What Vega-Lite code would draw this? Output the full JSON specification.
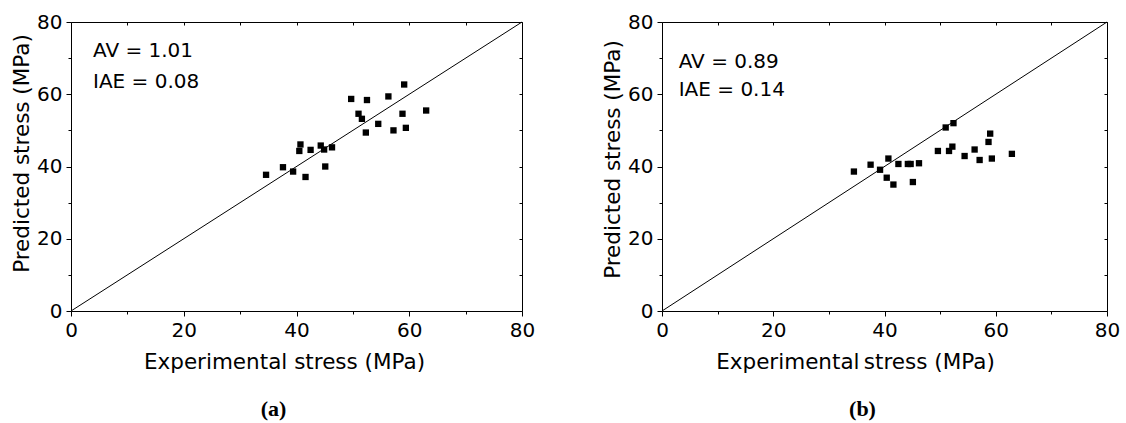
{
  "$schema": "https://vega.github.io/schema/vega-lite/v6.json",
  "autosize": {"type": "none"},
  "padding": {"left": 71, "top": 22, "right": 1055, "bottom": 401},
  "bounds": "flush",
  "spacing": 140,
  "background": "white",
  "config": {
    "font": "DejaVu Sans",
    "view": {"stroke": null},
    "axis": {
      "labelFont": "DejaVu Sans",
      "titleFont": "DejaVu Sans",
      "labelColor": "black",
      "titleColor": "black",
      "domainColor": "black",
      "tickColor": "black",
      "domainWidth": 1,
      "tickWidth": 1,
      "grid": false,
      "titleFontWeight": "normal",
      "labelFlush": false,
      "labelOverlap": false
    }
  },
  "datasets": {
    "a": [
      {"exp": 34.6, "pred": 37.7}, {"exp": 37.6, "pred": 39.8}, {"exp": 39.4, "pred": 38.6},
      {"exp": 40.5, "pred": 44.3}, {"exp": 40.7, "pred": 46.1}, {"exp": 41.6, "pred": 37.1},
      {"exp": 42.5, "pred": 44.6}, {"exp": 44.3, "pred": 45.8}, {"exp": 44.9, "pred": 44.7},
      {"exp": 45.1, "pred": 40.0}, {"exp": 46.3, "pred": 45.3}, {"exp": 49.7, "pred": 58.7},
      {"exp": 51.0, "pred": 54.6}, {"exp": 51.6, "pred": 53.2}, {"exp": 52.3, "pred": 49.4},
      {"exp": 52.5, "pred": 58.4}, {"exp": 54.5, "pred": 51.8}, {"exp": 56.3, "pred": 59.4},
      {"exp": 57.2, "pred": 50.0}, {"exp": 58.8, "pred": 54.6}, {"exp": 59.1, "pred": 62.7},
      {"exp": 59.4, "pred": 50.7}, {"exp": 63.0, "pred": 55.5}
    ],
    "b": [
      {"exp": 34.5, "pred": 38.6}, {"exp": 37.5, "pred": 40.5}, {"exp": 39.2, "pred": 39.1},
      {"exp": 40.4, "pred": 36.9}, {"exp": 40.7, "pred": 42.2}, {"exp": 41.6, "pred": 35.0},
      {"exp": 42.5, "pred": 40.7}, {"exp": 44.2, "pred": 40.7}, {"exp": 44.7, "pred": 40.7},
      {"exp": 45.1, "pred": 35.7}, {"exp": 46.2, "pred": 40.9}, {"exp": 49.6, "pred": 44.3},
      {"exp": 51.0, "pred": 50.8}, {"exp": 51.6, "pred": 44.3}, {"exp": 52.2, "pred": 45.5},
      {"exp": 52.4, "pred": 52.0}, {"exp": 54.4, "pred": 42.9}, {"exp": 56.2, "pred": 44.7},
      {"exp": 57.1, "pred": 41.8}, {"exp": 58.7, "pred": 46.8}, {"exp": 59.0, "pred": 49.1},
      {"exp": 59.3, "pred": 42.2}, {"exp": 62.9, "pred": 43.5}
    ],
    "diag": [{"exp": 0, "pred": 0}, {"exp": 80, "pred": 80}],
    "noteA": [
      {"label": "AV = 1.01", "exp": 3.9, "pred": 70.3},
      {"label": "IAE = 0.08", "exp": 3.9, "pred": 61.7}
    ],
    "noteB": [
      {"label": "AV = 0.89", "exp": 3.0, "pred": 67.3},
      {"label": "IAE = 0.14", "exp": 3.0, "pred": 59.5}
    ]
  },
  "hconcat": [
    {
      "width": 451,
      "height": 289,
      "title": {"text": "(a)", "orient": "bottom", "frame": "group", "anchor": "middle", "offset": 43, "dx": -23, "baseline": "alphabetic", "font": "Liberation Serif", "fontSize": 22, "fontWeight": "bold", "color": "black"},
      "layer": [
        {
          "data": {"name": "a"},
          "mark": {"type": "point", "shape": "square", "filled": true, "color": "black", "size": 40, "opacity": 1},
          "encoding": {
            "x": {"field": "exp", "type": "quantitative", "scale": {"domain": [0, 80], "nice": false},
              "axis": {"orient": "bottom", "values": [0, 10, 20, 30, 40, 50, 60, 70, 80], "labelExpr": "datum.value % 20 === 0 ? datum.label : ''",
                "tickSize": {"condition": {"test": "datum.value % 20 === 0", "value": 5}, "value": 3},
                "labelFontSize": 20, "labelPadding": 4, "title": "Experimental stress (MPa)", "titleFontSize": 21.5, "titleX": 213, "titleY": 57, "titleBaseline": "alphabetic", "titleAlign": "center"}},
            "y": {"field": "pred", "type": "quantitative", "scale": {"domain": [0, 80], "nice": false},
              "axis": {"orient": "left", "values": [0, 10, 20, 30, 40, 50, 60, 70, 80], "labelExpr": "datum.value % 20 === 0 ? datum.label : ''",
                "tickSize": {"condition": {"test": "datum.value % 20 === 0", "value": 5}, "value": 3},
                "labelFontSize": 20, "labelPadding": 4, "title": "Predicted stress (MPa)", "titleFontSize": 21.5, "titleX": -43, "titleY": 131, "titleBaseline": "alphabetic", "titleAlign": "center", "titleAngle": -90}}
          }
        },
        {
          "data": {"name": "diag"},
          "mark": {"type": "line", "color": "black", "strokeWidth": 1},
          "encoding": {
            "x": {"field": "exp", "type": "quantitative", "scale": {"domain": [0, 80], "nice": false},
              "axis": {"orient": "top", "values": [0, 10, 20, 30, 40, 50, 60, 70, 80], "labels": false, "tickSize": -3, "title": null}},
            "y": {"field": "pred", "type": "quantitative", "scale": {"domain": [0, 80], "nice": false},
              "axis": {"orient": "right", "values": [0, 10, 20, 30, 40, 50, 60, 70, 80], "labels": false, "tickSize": -3, "title": null}}
          }
        },
        {
          "data": {"name": "noteA"},
          "mark": {"type": "text", "align": "left", "baseline": "alphabetic", "font": "DejaVu Sans", "fontSize": 20, "color": "black"},
          "encoding": {
            "x": {"field": "exp", "type": "quantitative", "axis": null},
            "y": {"field": "pred", "type": "quantitative", "axis": null},
            "text": {"field": "label"}
          }
        }
      ],
      "resolve": {"axis": {"x": "independent", "y": "independent"}}
    },
    {
      "width": 445,
      "height": 289,
      "title": {"text": "(b)", "orient": "bottom", "frame": "group", "anchor": "middle", "offset": 43, "dx": -22, "baseline": "alphabetic", "font": "Liberation Serif", "fontSize": 22, "fontWeight": "bold", "color": "black"},
      "layer": [
        {
          "data": {"name": "b"},
          "mark": {"type": "point", "shape": "square", "filled": true, "color": "black", "size": 40, "opacity": 1},
          "encoding": {
            "x": {"field": "exp", "type": "quantitative", "scale": {"domain": [0, 80], "nice": false},
              "axis": {"orient": "bottom", "values": [0, 10, 20, 30, 40, 50, 60, 70, 80], "labelExpr": "datum.value % 20 === 0 ? datum.label : ''",
                "tickSize": {"condition": {"test": "datum.value % 20 === 0", "value": 5}, "value": 3},
                "labelFontSize": 20, "labelPadding": 4, "title": "Experimental\u2009stress (MPa)", "titleFontSize": 21.5, "titleX": 193, "titleY": 57, "titleBaseline": "alphabetic", "titleAlign": "center"}},
            "y": {"field": "pred", "type": "quantitative", "scale": {"domain": [0, 80], "nice": false},
              "axis": {"orient": "left", "values": [0, 10, 20, 30, 40, 50, 60, 70, 80], "labelExpr": "datum.value % 20 === 0 ? datum.label : ''",
                "tickSize": {"condition": {"test": "datum.value % 20 === 0", "value": 5}, "value": 3},
                "labelFontSize": 20, "labelPadding": 4, "title": "Predicted stress (MPa)", "titleFontSize": 21.5, "titleX": -43, "titleY": 137, "titleBaseline": "alphabetic", "titleAlign": "center", "titleAngle": -90}}
          }
        },
        {
          "data": {"name": "diag"},
          "mark": {"type": "line", "color": "black", "strokeWidth": 1},
          "encoding": {
            "x": {"field": "exp", "type": "quantitative", "scale": {"domain": [0, 80], "nice": false},
              "axis": {"orient": "top", "values": [0, 10, 20, 30, 40, 50, 60, 70, 80], "labels": false, "tickSize": -3, "title": null}},
            "y": {"field": "pred", "type": "quantitative", "scale": {"domain": [0, 80], "nice": false},
              "axis": {"orient": "right", "values": [0, 10, 20, 30, 40, 50, 60, 70, 80], "labels": false, "tickSize": -3, "title": null}}
          }
        },
        {
          "data": {"name": "noteB"},
          "mark": {"type": "text", "align": "left", "baseline": "alphabetic", "font": "DejaVu Sans", "fontSize": 20, "color": "black"},
          "encoding": {
            "x": {"field": "exp", "type": "quantitative", "axis": null},
            "y": {"field": "pred", "type": "quantitative", "axis": null},
            "text": {"field": "label"}
          }
        }
      ],
      "resolve": {"axis": {"x": "independent", "y": "independent"}}
    }
  ]
}
